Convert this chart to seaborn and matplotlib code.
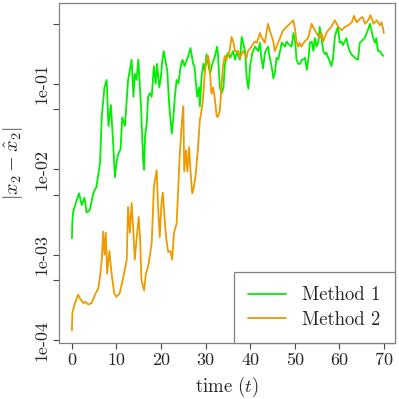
import matplotlib
matplotlib.use("Agg")
import matplotlib.pyplot as plt
import seaborn as sns
import pandas as pd

# values
t_m1 = [0.0, 0.1, 0.3, 1.0, 1.6, 2.2, 2.8, 3.3, 4.0, 4.8, 5.5, 6.3, 6.7, 7.3, 7.8, 8.2, 8.75, 9.3,
        9.65, 10.0, 10.4, 10.9, 11.3, 11.9, 12.6, 13.4, 13.8, 14.1, 14.5, 14.9, 15.5, 16.0, 16.2,
        16.4, 16.8, 17.1, 17.5, 17.9, 18.4, 18.8, 19.1, 19.6, 19.9, 20.3, 20.6, 21.1, 21.4, 21.8,
        22.4, 22.7, 23.1, 23.5, 23.9, 24.4, 24.8, 25.3, 26.1, 26.6, 27.2, 27.5, 28.1, 28.5, 28.7,
        29.1, 29.5, 29.8, 30.2, 30.6, 31.0, 31.5, 32.0, 32.6, 32.8, 33.2, 33.6, 34.0, 34.3, 34.7,
        35.1, 35.5, 36.2, 36.6, 37.0, 37.7, 38.1, 38.5, 38.9, 39.2, 39.6, 40.0, 40.5, 41.1, 41.8,
        42.2, 42.5, 42.9, 43.3, 44.0, 44.4, 44.8, 45.2, 45.6, 45.9, 46.3, 46.7, 47.1, 47.8, 48.2,
        48.6, 49.3, 49.7, 50.1, 50.4, 50.8, 51.2, 51.6, 51.9, 52.3, 52.7, 53.1, 53.4, 53.8, 54.2,
        54.5, 54.9, 55.3, 55.6, 56.0, 56.4, 56.8, 57.1, 57.5, 57.9, 58.2, 58.6, 59.0, 59.4, 59.7,
        60.1, 60.5, 60.8, 61.6, 62.0, 62.3, 62.7, 63.5, 64.2, 64.6, 64.9, 65.7, 66.4, 66.9, 67.2,
        67.6, 68.0, 68.3, 68.7, 69.1, 69.5, 69.9]
err_m1 = [1.55e-3, 2.5e-3, 3.2e-3, 4.2e-3, 5.2e-3, 3.8e-3, 4.6e-3, 3.1e-3, 3.3e-3, 5.2e-3, 6.2e-3,
          1.17e-2, 4.1e-2, 9e-2, 0.11, 0.032, 0.056, 0.018, 0.008, 0.012, 0.015, 0.017, 0.04, 0.032,
          0.11, 0.19, 0.07, 0.13, 0.11, 0.19, 0.054, 0.012, 0.0098, 0.024, 0.035, 0.07, 0.077, 0.07,
          0.16, 0.1, 0.17, 0.09, 0.11, 0.19, 0.24, 0.17, 0.14, 0.059, 0.026, 0.037, 0.07, 0.11, 0.10,
          0.16, 0.19, 0.16, 0.21, 0.26, 0.17, 0.16, 0.07, 0.09, 0.054, 0.12, 0.17, 0.14, 0.22, 0.17,
          0.13, 0.17, 0.20, 0.27, 0.21, 0.09, 0.077, 0.09, 0.16, 0.21, 0.23, 0.20, 0.24, 0.19, 0.23,
          0.19, 0.35, 0.29, 0.23, 0.12, 0.087, 0.16, 0.23, 0.27, 0.24, 0.30, 0.20, 0.15, 0.23, 0.27,
          0.20, 0.16, 0.115, 0.14, 0.20, 0.19, 0.24, 0.30, 0.27, 0.31, 0.29, 0.27, 0.39, 0.31, 0.19,
          0.17, 0.17, 0.19, 0.19, 0.20, 0.145, 0.20, 0.30, 0.31, 0.24, 0.34, 0.27, 0.31, 0.46, 0.34,
          0.24, 0.22, 0.23, 0.20, 0.18, 0.16, 0.20, 0.35, 0.42, 0.46, 0.30, 0.31, 0.28, 0.34, 0.27,
          0.24, 0.22, 0.20, 0.19, 0.30, 0.31, 0.34, 0.42, 0.50, 0.42, 0.34, 0.30, 0.34, 0.24, 0.24,
          0.22, 0.21]

t_m2 = [0.0, 0.1, 0.7, 1.4, 1.9, 2.6, 3.0, 3.7, 4.4, 5.2, 5.9, 6.3, 6.7, 7.0, 7.3, 7.6, 7.9, 8.4,
        8.9, 9.5, 10.0, 10.7, 11.5, 12.3, 12.6, 13.0, 13.4, 13.8, 14.1, 14.5, 15.0, 15.3, 15.6,
        16.2, 16.6, 17.1, 17.9, 18.4, 19.0, 19.3, 19.7, 20.1, 20.4, 20.8, 21.2, 21.6, 22.1, 22.5,
        22.9, 23.5, 24.2, 24.7, 25.0, 25.2, 25.6, 25.9, 26.3, 26.6, 27.0, 27.4, 27.8, 28.3, 28.7,
        29.1, 29.4, 29.8, 30.2, 30.6, 30.9, 31.3, 31.7, 32.1, 32.5, 32.8, 33.2, 33.6, 33.9, 34.3,
        34.7, 35.4, 35.8, 36.2, 36.6, 37.3, 37.7, 38.4, 39.2, 39.5, 40.3, 41.0, 41.5, 42.2, 42.5,
        43.3, 44.0, 44.4, 45.2, 45.5, 45.9, 46.7, 47.4, 48.2, 48.9, 49.7, 50.1, 50.4, 50.8, 51.1,
        51.5, 52.2, 53.0, 53.8, 54.1, 54.9, 55.6, 56.0, 56.4, 57.1, 57.5, 58.2, 59.0, 59.4, 59.8,
        60.5, 61.3, 62.0, 62.8, 63.3, 63.9, 64.6, 65.2, 65.8, 66.5, 67.0, 67.7, 68.4, 69.1, 69.5,
        70.0]
err_m2 = [1.3e-4, 2.1e-4, 2.7e-4, 3.4e-4, 3.0e-4, 2.7e-4, 2.8e-4, 2.6e-4, 2.7e-4, 3.4e-4, 4.0e-4,
          5.5e-4, 8.7e-4, 1.85e-3, 1.0e-3, 1.8e-3, 6e-4, 1.1e-3, 6e-4, 3.5e-4, 3.2e-4, 3.5e-4,
          5.3e-4, 8.7e-4, 3.6e-3, 1.8e-3, 4.0e-3, 1.8e-3, 8.7e-4, 1.5e-3, 2.75e-3, 1.5e-3, 5e-4,
          3.8e-4, 6e-4, 7.2e-4, 1.35e-3, 6.2e-3, 9.7e-3, 4.0e-3, 1.6e-3, 4.0e-3, 5.3e-3, 2.6e-3,
          1.5e-3, 1.07e-3, 1.1e-3, 8.7e-4, 1.8e-3, 2.3e-3, 0.015, 0.037, 0.054, 0.0094, 0.0166,
          0.0094, 0.018, 0.0097, 5.2e-3, 6.2e-3, 9e-3, 0.018, 0.037, 0.049, 0.064, 0.13, 0.19, 0.21,
          0.16, 0.076, 0.09, 0.064, 0.041, 0.041, 0.049, 0.10, 0.16, 0.21, 0.19, 0.24, 0.35, 0.31,
          0.24, 0.24, 0.20, 0.24, 0.20, 0.24, 0.27, 0.31, 0.30, 0.39, 0.35, 0.30, 0.50, 0.42, 0.31,
          0.24, 0.27, 0.34, 0.42, 0.46, 0.50, 0.55, 0.42, 0.31, 0.27, 0.30, 0.27, 0.31, 0.34, 0.50,
          0.46, 0.39, 0.34, 0.39, 0.31, 0.39, 0.42, 0.46, 0.55, 0.50, 0.46, 0.42, 0.46, 0.48, 0.52,
          0.62, 0.52, 0.57, 0.60, 0.50, 0.55, 0.63, 0.50, 0.55, 0.48, 0.52, 0.39]

methods = ["Method 1", "Method 2"]
colors = ["#00EE00", "#EE9A00"]
y_ticks = [1e-4, 5e-4, 1e-3, 5e-3, 1e-2, 5e-2, 1e-1, 5e-1]
y_labels = ["1e-04", "", "1e-03", "", "1e-02", "", "1e-01", ""]
x_ticks = [0, 10, 20, 30, 40, 50, 60, 70]

df = pd.concat([
    pd.DataFrame({"time": t_m1, "err": err_m1, "method": methods[0]}),
    pd.DataFrame({"time": t_m2, "err": err_m2, "method": methods[1]}),
])

sns.set_theme(style="white")
plt.rcParams["font.family"] = ["cmr10", "DejaVu Serif"]
plt.rcParams["mathtext.fontset"] = "cm"
plt.rcParams["font.size"] = 13

fig = plt.figure(figsize=(3.99, 3.99), dpi=100)
ax = fig.add_axes([59 / 399, 1 - 343 / 399, 336 / 399, 340 / 399])

sns.lineplot(data=df, x="time", y="err", hue="method", palette=colors,
             estimator=None, sort=False, linewidth=1.3, ax=ax)

ax.set_yscale("log")
ax.set_xlim(-2.9, 72.5)
ax.set_ylim(9.23e-5, 0.875)
ax.set_yticks(y_ticks)
ax.set_yticklabels(y_labels, rotation=90, va="center")
ax.minorticks_off()
ax.set_xticks(x_ticks)
ax.set_xticklabels([str(x) for x in x_ticks])
ax.tick_params(axis="both", direction="out", length=4.5, width=0.8, color="#444444",
               labelsize=13, pad=2.5, left=True, bottom=True)

for s in ax.spines.values():
    s.set_color("#808080")
    s.set_linewidth(0.9)

ax.set_xlabel("time ($t$)", fontsize=13.5)
ax.set_ylabel(r"$|x_2 - \hat{x}_2|$", fontsize=14.5)
ax.xaxis.set_label_coords(0.5, -0.095)
ax.yaxis.set_label_coords(-0.1, 0.53)

leg = ax.legend(loc="lower right", borderaxespad=0, fancybox=False, framealpha=1,
                edgecolor="#808080", handlelength=2.0, handletextpad=0.9,
                labelspacing=0.35, borderpad=0.75, fontsize=13.5)
leg.get_frame().set_linewidth(0.9)

fig.savefig("out.png", dpi=100)
